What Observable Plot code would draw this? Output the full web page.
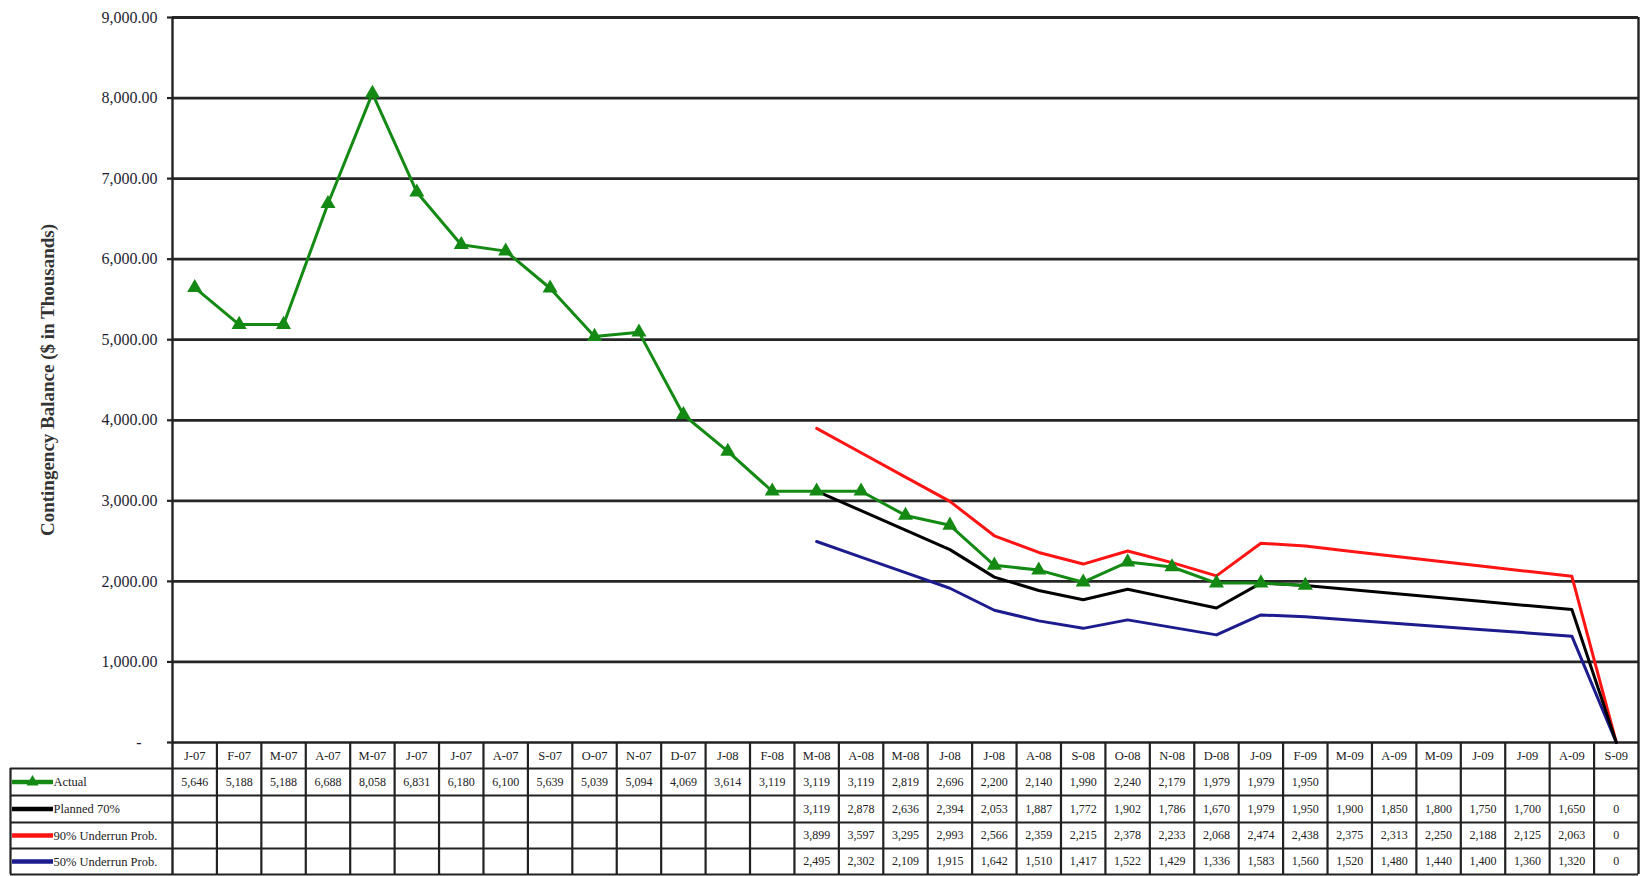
<!DOCTYPE html>
<html><head><meta charset="utf-8">
<script src="https://cdn.jsdelivr.net/npm/d3@7"></script>
<script src="https://cdn.jsdelivr.net/npm/@observablehq/plot@0.6"></script>
<style>html,body{margin:0;padding:0;background:#fff;overflow:hidden}</style>
</head><body><div id="chart"></div>
<script>
// ---- data ----
const months = ["J-07","F-07","M-07","A-07","M-07","J-07","J-07","A-07","S-07","O-07","N-07","D-07","J-08","F-08","M-08","A-08","M-08","J-08","J-08","A-08","S-08","O-08","N-08","D-08","J-09","F-09","M-09","A-09","M-09","J-09","J-09","A-09","S-09"];
const actual = [5646,5188,5188,6688,8058,6831,6180,6100,5639,5039,5094,4069,3614,3119,3119,3119,2819,2696,2200,2140,1990,2240,2179,1979,1979,1950];
const forecastStart = 14; // forecasts begin at M-08
const planned70 = [3119,2878,2636,2394,2053,1887,1772,1902,1786,1670,1979,1950,1900,1850,1800,1750,1700,1650,0];
const underrun90 = [3899,3597,3295,2993,2566,2359,2215,2378,2233,2068,2474,2438,2375,2313,2250,2188,2125,2063,0];
const underrun50 = [2495,2302,2109,1915,1642,1510,1417,1522,1429,1336,1583,1560,1520,1480,1440,1400,1360,1320,0];
const seriesNames = ["Actual","Planned 70%","90% Underrun Prob.","50% Underrun Prob."];
const seriesColors = ["#148a14","#000000","#ff1414","#1c1c8e"];
const yTicks = [0,1000,2000,3000,4000,5000,6000,7000,8000,9000];
const yTitle = "Contingency Balance ($ in Thousands)";

// ---- layout ----
const W = 1644, H = 876;
const plotLeft = 172, plotRight = 1638, topPx = 17, zeroPx = 742, bottomPx = 874, tableLeftPx = 10, titlePx = 47;
const nCols = months.length;
const colW = (plotRight - plotLeft) / nCols;
const yMax = yTicks[yTicks.length - 1];
const uPerPx = yMax / (zeroPx - topPx);
const pxToU = px => yMax - (px - topPx) * uPerPx;
const rowEdgesPx = [zeroPx, 768, 795, 822, 848, bottomPx];
const rowEdges = rowEdgesPx.map(pxToU);
const rowMid = k => (rowEdges[k] + rowEdges[k + 1]) / 2;
const yMin = pxToU(H - 2);
const legendX0 = -(plotLeft - tableLeftPx) / colW;
const titleX = -(plotLeft - titlePx) / colW;

const pad = arr => Array(forecastStart).fill(null).concat(arr);
const seriesValues = [actual, pad(planned70), pad(underrun90), pad(underrun50)];

const rows = seriesValues.flatMap((vals, s) =>
  vals.map((v, i) => ({s, name: seriesNames[s], i, x: i + 0.5, v})).filter(d => d.v != null));

const fmt = d3.format(",");
const font = "Liberation Serif, Times New Roman, serif";

const marks = [];
// gridlines
marks.push(Plot.ruleY(yTicks.filter(t => t > 0), {x1: 0, x2: nCols, stroke: "#262626", strokeWidth: 2.8}));
// y axis ticks and labels
marks.push(Plot.axisY({
  ticks: yTicks, tickSize: 5, tickPadding: 10, label: null,
  tickFormat: d => d === 0 ? "-\u00a0\u00a0\u00a0\u00a0" : d3.format(",.2f")(d),
  fontSize: 16, fontFamily: font, color: "#1e1e30", stroke: "#222", strokeWidth: 2.2
}));
// y title
marks.push(Plot.text([{t: yTitle, x: titleX, y: yMax / 2}], {
  text: "t", x: "x", y: "y", rotate: -90,
  fontSize: 19, fontWeight: "bold", fontFamily: font, fill: "#333"
}));
// frame verticals & table column separators
const colEdges = d3.range(0, nCols + 1);
marks.push(Plot.ruleX(colEdges.filter(c => c === 0 || c === nCols), {y1: yMax, y2: rowEdges[5], stroke: "#222", strokeWidth: 2.4}));
marks.push(Plot.ruleX(colEdges.filter(c => c > 0 && c < nCols), {y1: 0, y2: rowEdges[5], stroke: "#222", strokeWidth: 2.2}));
// legend column left edge
marks.push(Plot.ruleX([legendX0], {y1: rowEdges[1], y2: rowEdges[5], stroke: "#222", strokeWidth: 2.2}));
// table horizontals
marks.push(Plot.ruleY([0], {x1: 0, x2: nCols, stroke: "#222", strokeWidth: 2.4}));
marks.push(Plot.ruleY(rowEdges.slice(1), {x1: legendX0, x2: nCols, stroke: "#222", strokeWidth: 2.2}));

// data lines (forecasts first, actual on top)
[2, 3, 1, 0].forEach(s => {
  marks.push(Plot.line(rows.filter(d => d.s === s), {x: "x", y: "v", stroke: seriesColors[s], strokeWidth: 3}));
});
marks.push(Plot.dot(rows.filter(d => d.s === 0), {x: "x", y: "v", symbol: "triangle", r: 5.6, fill: seriesColors[0], stroke: "none"}));

// table header
marks.push(Plot.text(months.map((m, i) => ({m, x: i + 0.5})), {
  x: "x", y: () => rowMid(0), text: "m", fontSize: 12.5, fontFamily: font, fill: "#222"
}));
// table values
marks.push(Plot.text(rows, {
  x: "x", y: d => rowMid(d.s + 1), text: d => fmt(d.v), fontSize: 12, fontFamily: font, fill: "#222"
}));
// legend samples
const legendRows = seriesNames.map((name, s) => ({name, s, y: rowMid(s + 1)}));
marks.push(Plot.ruleY(legendRows, {
  y: "y", x1: legendX0 + 2 / colW, x2: legendX0 + 43 / colW,
  stroke: d => seriesColors[d.s], strokeWidth: 4.5
}));
marks.push(Plot.dot(legendRows.filter(d => d.s === 0), {
  y: "y", x: legendX0 + 22 / colW, symbol: "triangle", r: 4.5, fill: seriesColors[0]
}));
marks.push(Plot.text(legendRows, {
  y: "y", x: legendX0 + 43 / colW, text: "name", textAnchor: "start",
  fontSize: 12.5, fontFamily: font, fill: "#222"
}));

const chart = Plot.plot({
  width: W, height: H,
  marginLeft: plotLeft, marginRight: W - plotRight, marginTop: topPx, marginBottom: 2,
  x: {type: "linear", domain: [0, nCols], axis: null},
  y: {type: "linear", domain: [yMin, yMax], axis: null, label: null},
  color: {type: "identity"},
  style: {background: "#fff", overflow: "visible"},
  marks
});
document.getElementById("chart").appendChild(chart);
</script>
</body></html>
